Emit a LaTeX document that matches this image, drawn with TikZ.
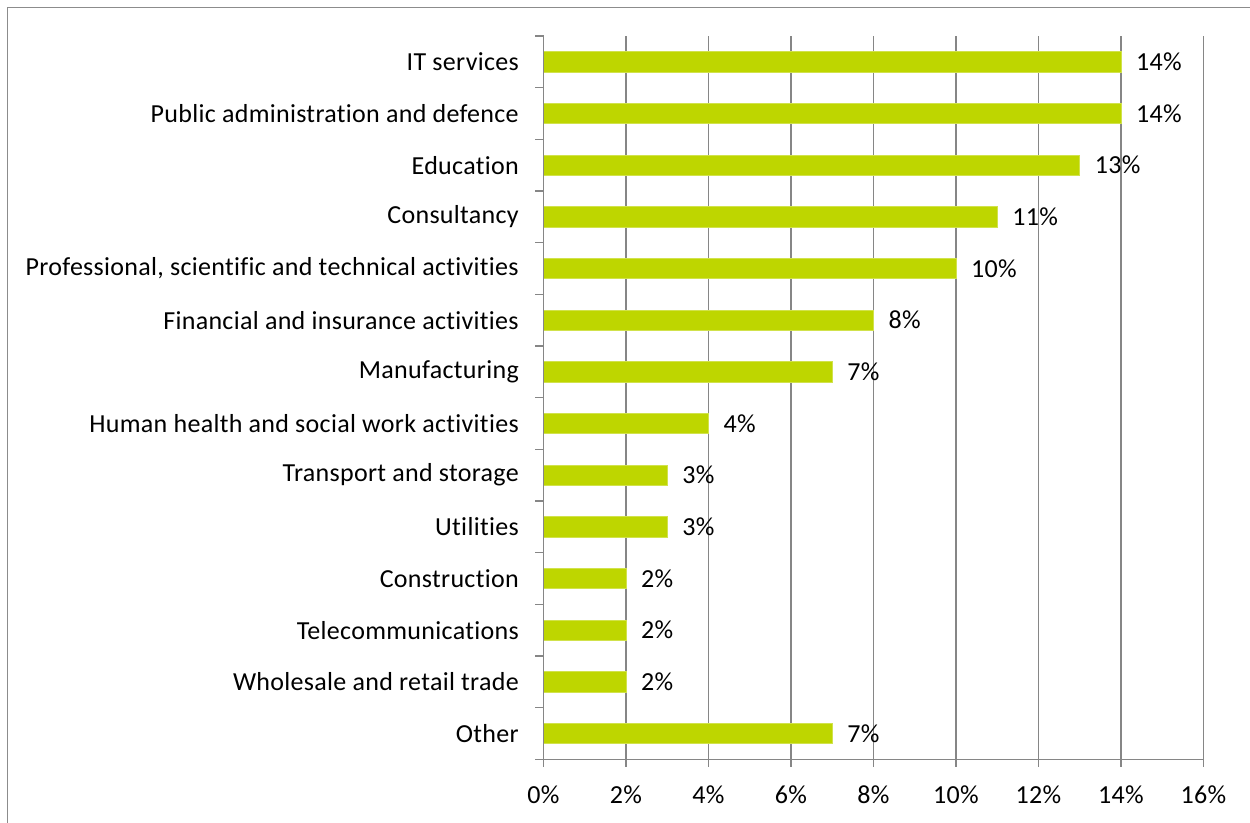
\documentclass[tikz,border=0pt]{standalone}
\usepackage{fontspec}
\setmainfont{Carlito}[Ligatures=NoCommon,LetterSpace=1.2]
\definecolor{barcol}{RGB}{190,214,0}
\definecolor{axcol}{RGB}{134,134,134}
\definecolor{framecol}{RGB}{140,140,140}
\begin{document}
\begin{tikzpicture}[x=1pt,y=-1pt,
  ax/.style={draw=axcol,line width=1.6pt},
  bar/.style={fill=barcol,draw=barcol!70!white,line width=0.6pt},
  catlab/.style={anchor=east,inner sep=0pt,font=\fontsize{26}{31}\selectfont},
  vallab/.style={anchor=west,inner sep=0pt,font=\fontsize{26}{31}\selectfont},
  ticklab/.style={anchor=center,inner sep=0pt,font=\fontsize{26}{31}\selectfont}]
\useasboundingbox (0,0) rectangle (1250,822);
\fill[white] (0,0) rectangle (1250,822);
% frame
\draw[framecol,line width=1.8pt] (7.5,830) -- (7.5,7.5) -- (1260,7.5);
\def\xz{543.5}
\def\xs{41.25}
\def\yt{36}
\def\yb{759.3}
\def\rh{51.664}
% gridlines and x ticks
\foreach \k in {1,...,8}{
  \draw[ax] ({\xz+2*\k*\xs},\yt) -- ({\xz+2*\k*\xs},767);
}
\foreach \k in {0,...,8}{
  \pgfmathtruncatemacro{\pc}{2*\k}
  \node[ticklab] (t\k) at ({\xz+2*\k*\xs},795) {\pc\%};
}
% y ticks
\foreach \k in {0,...,14}{
  \draw[ax] (535,{\yt+\k*\rh}) -- (\xz,{\yt+\k*\rh});
}
% bars
\foreach \i/\lab/\v in {0/IT services/14,
  1/Public administration and defence/14,
  2/Education/13,
  3/Consultancy/11,
  4/{Professional, scientific and technical activities}/10,
  5/Financial and insurance activities/8,
  6/Manufacturing/7,
  7/Human health and social work activities/4,
  8/Transport and storage/3,
  9/Utilities/3,
  10/Construction/2,
  11/Telecommunications/2,
  12/Wholesale and retail trade/2,
  13/Other/7}{
  \pgfmathsetmacro{\yc}{\yt+(\i+0.5)*\rh}
  \draw[bar] (\xz,\yc-10.3) rectangle ({\xz+\v*\xs},\yc+10.3);
  \node[catlab] (c\i) at (519,\yc) {\lab};
  \node[vallab] (v\i) at ({\xz+\v*\xs+15},\yc) {\v\%};
}
% axes
\draw[ax] (\xz,\yt) -- (\xz,767);
\draw[ax] (535,\yb) -- ({\xz+16*\xs},\yb);
\end{tikzpicture}
\end{document}
